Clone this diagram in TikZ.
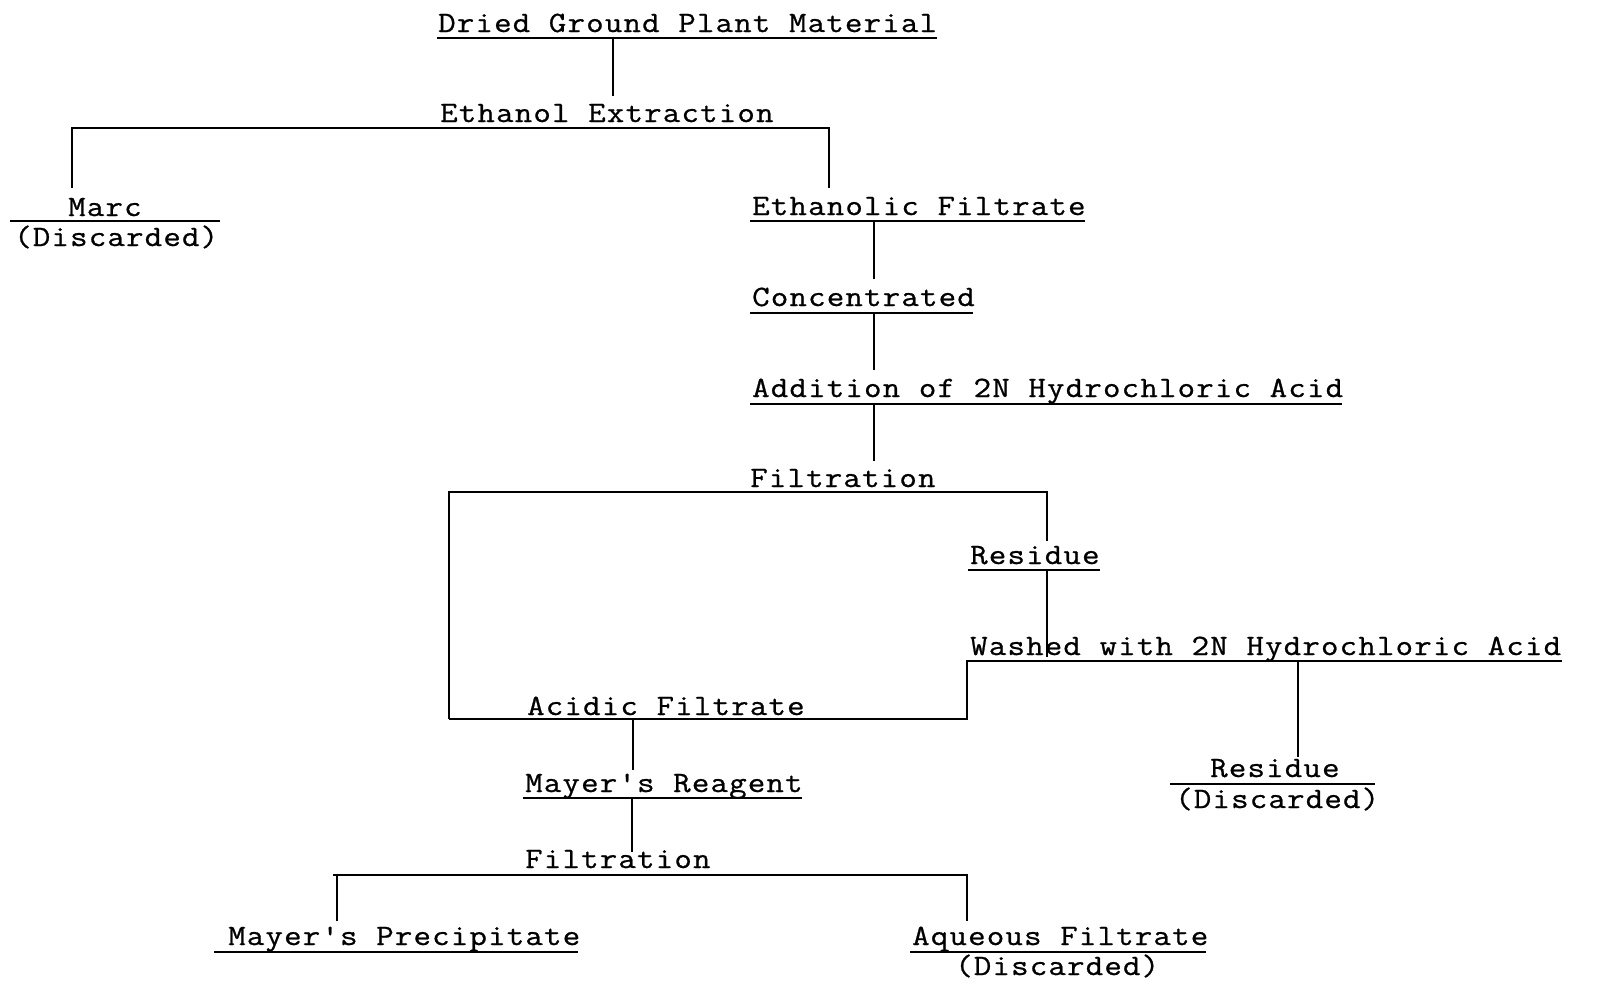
\documentclass[tikz,border=0pt]{standalone}
\usepackage{fontspec}
\newfontfamily\twfont{Latin Modern Mono}[FakeStretch=1.15,LetterSpace=4,FakeBold=0.8,Ligatures=NoCommon]
\begin{document}
\begin{tikzpicture}[x=1pt,y=-1pt,
  lbl/.style={anchor=base west,inner sep=0pt,font=\twfont\fontsize{29.5}{36}\selectfont},
  ln/.style={line width=1.7pt,line cap=butt,line join=miter}]
\useasboundingbox (0,0) rectangle (1604,1004);
% texts
\node[lbl] (dried) at (438,32) {Dried Ground Plant Material};
\node[lbl] (ethx)  at (440,122) {Ethanol Extraction};
\node[lbl] (marc)  at (68,216) {Marc};
\node[lbl] (marcd) at (14,246) {(Discarded)};
\node[lbl] (ethf)  at (752,215) {Ethanolic Filtrate};
\node[lbl] (conc)  at (752,306) {Concentrated};
\node[lbl] (addn)  at (752,397) {Addition of 2N Hydrochloric Acid};
\node[lbl] (filt1) at (750,487) {Filtration};
\node[lbl] (res1)  at (970,564) {Residue};
\node[lbl] (wash)  at (970,655) {Washed with 2N Hydrochloric Acid};
\node[lbl] (acid)  at (527,715) {Acidic Filtrate};
\node[lbl] (res2)  at (1210,777) {Residue};
\node[lbl] (res2d) at (1175,808) {(Discarded)};
\node[lbl] (mayr)  at (525,792) {Mayer\char"0027 s Reagent};
\node[lbl] (filt2) at (525,868) {Filtration};
\node[lbl] (mprec) at (228,945) {Mayer\char"0027 s Precipitate};
\node[lbl] (aqf)   at (912,945) {Aqueous Filtrate};
\node[lbl] (aqfd)  at (955,975) {(Discarded)};
% coordinates
\coordinate (a1) at (437,38);  \coordinate (a2) at (937,38);
\coordinate (a3) at (613,38);  \coordinate (a4) at (613,96);
\coordinate (b1) at (72,188);  \coordinate (b2) at (72,128);
\coordinate (b3) at (829,128); \coordinate (b4) at (829,188);
\coordinate (c1) at (10,221);  \coordinate (c2) at (220,221);
\coordinate (d1) at (750,221); \coordinate (d2) at (1085,221);
\coordinate (d3) at (874,221); \coordinate (d4) at (874,279);
\coordinate (e1) at (750,313); \coordinate (e2) at (973,313);
\coordinate (e3) at (874,313); \coordinate (e4) at (874,370);
\coordinate (f1) at (750,404); \coordinate (f2) at (1342,404);
\coordinate (f3) at (874,404); \coordinate (f4) at (874,461);
\coordinate (g1) at (449,719); \coordinate (g2) at (449,492);
\coordinate (g3) at (1047,492);\coordinate (g4) at (1047,541);
\coordinate (h1) at (968,570); \coordinate (h2) at (1100,570);
\coordinate (h3) at (1047,570);\coordinate (h4) at (1047,657);
\coordinate (i1) at (1562,661);\coordinate (i2) at (967,661);
\coordinate (i3) at (967,719);
\coordinate (k1) at (1298,661);\coordinate (k2) at (1298,757);
\coordinate (l1) at (1170,784);\coordinate (l2) at (1375,784);
\coordinate (m1) at (633,719); \coordinate (m2) at (633,770);
\coordinate (n1) at (523,798); \coordinate (n2) at (802,798);
\coordinate (n3) at (632,798); \coordinate (n4) at (632,852);
\coordinate (o1) at (337,921); \coordinate (o0) at (333,875);
\coordinate (o2) at (337,875); \coordinate (o3) at (967,875);
\coordinate (o4) at (967,921);
\coordinate (p1) at (214,952); \coordinate (p2) at (578,952);
\coordinate (q1) at (910,952); \coordinate (q2) at (1206,952);
% lines
\draw[ln] (a1) -- (a2);
\draw[ln] (a3) -- (a4);
\draw[ln] (b1) -- (b2) -- (b3) -- (b4);
\draw[ln] (c1) -- (c2);
\draw[ln] (d1) -- (d2);
\draw[ln] (d3) -- (d4);
\draw[ln] (e1) -- (e2);
\draw[ln] (e3) -- (e4);
\draw[ln] (f1) -- (f2);
\draw[ln] (f3) -- (f4);
\draw[ln] (g1) -- (g2) -- (g3) -- (g4);
\draw[ln] (h1) -- (h2);
\draw[ln] (h3) -- (h4);
\draw[ln] (i1) -- (i2) -- (i3) -- (g1);
\draw[ln] (k1) -- (k2);
\draw[ln] (l1) -- (l2);
\draw[ln] (m1) -- (m2);
\draw[ln] (n1) -- (n2);
\draw[ln] (n3) -- (n4);
\draw[ln] (o1) -- (o2);
\draw[ln] (o0) -- (o3) -- (o4);
\draw[ln] (p1) -- (p2);
\draw[ln] (q1) -- (q2);
\end{tikzpicture}
\end{document}
